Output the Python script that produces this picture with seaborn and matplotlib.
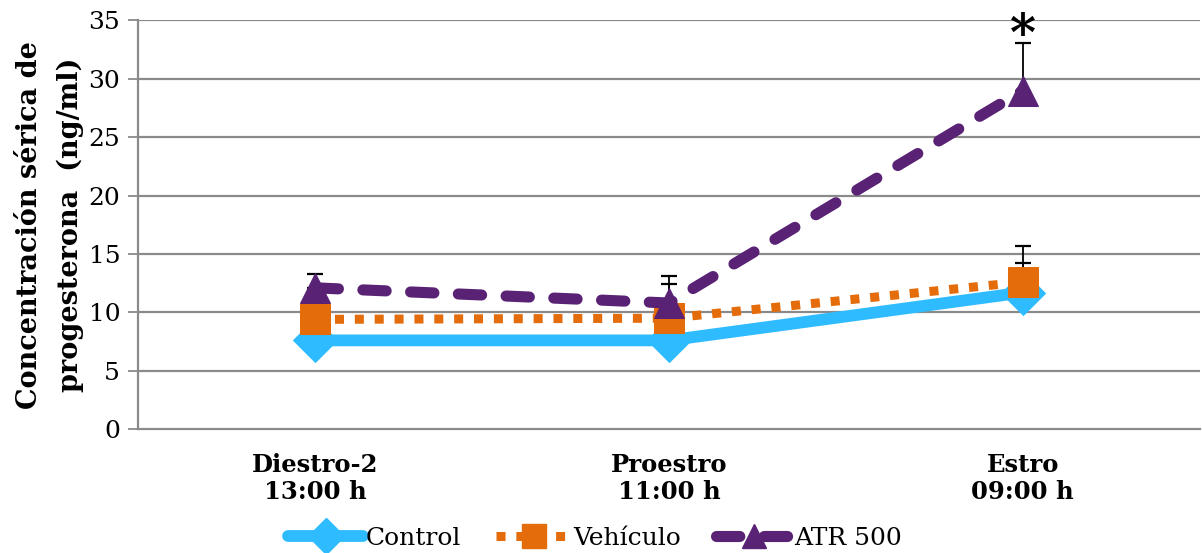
import matplotlib
matplotlib.use("Agg")
import matplotlib.pyplot as plt
import seaborn as sns
import numpy as np
import pandas as pd
from matplotlib.lines import Line2D

categories = ["Diestro-2\n13:00 h", "Proestro\n11:00 h", "Estro\n09:00 h"]
control = [7.6, 7.6, 11.7]
vehiculo = [9.4, 9.5, 12.6]
atr500 = [12.1, 10.8, 29.0]
control_err = [0.0, 0.0, 2.5]
vehiculo_err = [0.0, 2.9, 3.1]
atr500_err = [1.2, 2.3, 4.1]
yticks = [0, 5, 10, 15, 20, 25, 30, 35]

sns.set_theme(style="white")
plt.rcParams['font.family'] = ['DejaVu Serif']
plt.rcParams['text.color'] = 'black'
plt.rcParams['axes.labelcolor'] = 'black'
plt.rcParams['xtick.color'] = 'black'
plt.rcParams['ytick.color'] = 'black'

fig, ax = plt.subplots(figsize=(12.02, 5.53), dpi=100)
fig.subplots_adjust(left=0.115, right=0.998, top=0.963, bottom=0.224)

x = np.arange(len(categories))
gray = "#8a8a8a"

for yv in yticks[1:]:
    ax.axhline(yv, color=gray, lw=1.6, zorder=0)

c_ctrl = "#2EBBFF"
c_veh = "#E46C0A"
c_atr = "#592274"

series = [
    ("Control", control, control_err, c_ctrl, "-", "D", 8.5, 22, 1),
    ("Vehículo", vehiculo, vehiculo_err, c_veh, (0, (1.0, 1.2)), "s", 6.5, 21, 2),
    ("ATR 500", atr500, atr500_err, c_atr, (0, (2.1, 2.2)), "^", 8.0, 21, 3),
]

handles = []
for name, vals, errs, col, ls, mk, lw, ms, z in series:
    ax.errorbar(x, vals, yerr=[np.zeros(len(vals)), errs], fmt="none",
                ecolor="black", elinewidth=1.3, capsize=6, capthick=1.6, zorder=z)
    df = pd.DataFrame({"x": x, "y": vals})
    sns.lineplot(data=df, x="x", y="y", ax=ax, color=col, lw=lw, linestyle=ls,
                 marker=mk, markersize=ms, markeredgecolor=col, markerfacecolor=col,
                 zorder=z + 0.5, legend=False)
    ln = ax.lines[-1]
    ln.set_dash_capstyle("round" if mk == "^" else "butt")
    ln.set_solid_capstyle("round")
    h = Line2D([0], [0], color=col, lw=lw, linestyle=ls, marker=mk,
               markersize=ms * 0.85, markeredgecolor=col, markerfacecolor=col)
    h.set_dash_capstyle("round" if mk == "^" else "butt")
    h.set_solid_capstyle("round")
    handles.append(h)

ax.text(x[2], 33.6, "*", ha="center", va="center",
        fontsize=36, fontweight="bold", color="black", clip_on=False)

ax.set_xlim(-0.5, 2.5)
ax.set_ylim(0, 35)
ax.set_yticks(yticks)
ax.set_yticklabels([str(v) for v in yticks], fontsize=18)
ax.set_xticks(x)
ax.set_xticklabels(categories, fontsize=17.5, fontweight="bold", linespacing=1.15)
ax.set_xticks([-0.5, 0.5, 1.5, 2.5], minor=True)
ax.tick_params(axis="x", which="major", length=0, pad=17)
ax.tick_params(axis="x", which="minor", length=7, width=1.3, color=gray, direction="out")
ax.tick_params(axis="y", length=7, width=1.3, color=gray, direction="out", pad=6, left=True)
ax.set_xlabel("")
ax.set_ylabel("Concentración sérica de\nprogesterona  (ng/ml)", fontsize=19.5,
              fontweight="bold", labelpad=3, linespacing=1.65)

for s in ["top", "right"]:
    ax.spines[s].set_visible(False)
for s in ["left", "bottom"]:
    ax.spines[s].set_color(gray)
    ax.spines[s].set_linewidth(1.6)

leg = fig.legend(handles, ["Control", "Vehículo", "ATR 500"], loc="lower center",
                 bbox_to_anchor=(0.495, -0.035), ncol=3, frameon=False, fontsize=18,
                 handlelength=3.0, handletextpad=0.1, columnspacing=1.4)

fig.savefig("out.png", dpi=100)
